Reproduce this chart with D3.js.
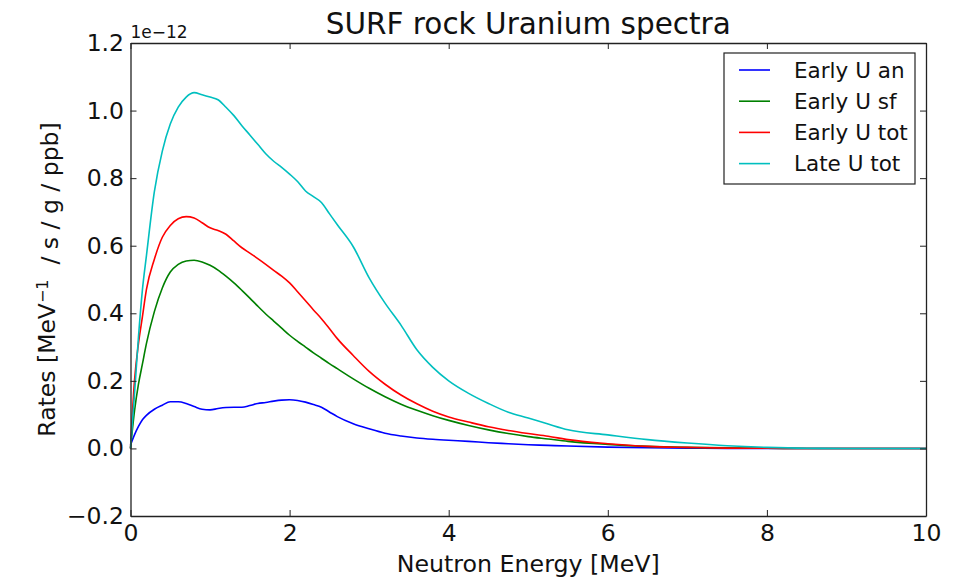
<!DOCTYPE html>
<html>
<head>
<meta charset="utf-8">
<script src="https://cdn.jsdelivr.net/npm/d3@7"></script>
<style>
  body { margin: 0; background: #fff; }
  svg { font-family: "DejaVu Sans", sans-serif; }
</style>
</head>
<body>
<div id="chart"></div>
<script>
// neutron energy grid (MeV)
var energy = [0, 0.05, 0.1, 0.15, 0.2,
    0.3, 0.4, 0.5, 0.6, 0.7, 0.8, 0.9, 1.0, 1.1, 1.2,
    1.3, 1.4, 1.5, 1.6, 1.7, 1.8, 1.9, 2.0, 2.1, 2.2,
    2.3, 2.4, 2.5, 2.6,
    2.8, 3.0, 3.2, 3.4, 3.6, 3.8, 4.0,
    4.25, 4.5, 4.75, 5.0, 5.25, 5.5,
    6.0, 6.5, 7.0, 7.5, 8.0, 8.5, 9.0, 10.0];

// rates in units of 1e-12 MeV^-1 / s / g / ppb
var earlyAn = [0.01, 0.04, 0.065, 0.085, 0.098,
    0.116, 0.128, 0.138, 0.138, 0.133, 0.124, 0.116, 0.114, 0.118, 0.121,
    0.122, 0.122, 0.127, 0.133, 0.136, 0.140, 0.143, 0.144, 0.142, 0.137,
    0.130, 0.122, 0.108, 0.094,
    0.073, 0.058, 0.045, 0.037, 0.031, 0.027, 0.024,
    0.021, 0.017, 0.014, 0.011, 0.009, 0.007,
    0.004, 0.002, 0.001, 0, 0, 0, 0, 0];

var earlySf = [0, 0.11, 0.19, 0.25, 0.31,
    0.405, 0.475, 0.522, 0.545, 0.555, 0.557, 0.552, 0.542, 0.528, 0.510,
    0.490, 0.468, 0.445, 0.421, 0.398, 0.377, 0.356, 0.335, 0.317, 0.300,
    0.283, 0.267, 0.251, 0.236,
    0.206, 0.178, 0.153, 0.131, 0.113, 0.097, 0.083,
    0.068, 0.055, 0.044, 0.035, 0.028, 0.021,
    0.012, 0.006, 0.003, 0.0015, 0.0005, 0, 0, 0];

var earlyTot = [0, 0.20, 0.31, 0.39, 0.47,
    0.56, 0.625, 0.660, 0.680, 0.686, 0.682, 0.668, 0.653, 0.645, 0.634,
    0.614, 0.594, 0.578, 0.562, 0.545, 0.527, 0.510, 0.490, 0.464, 0.437,
    0.410, 0.384, 0.355, 0.325,
    0.275, 0.228, 0.190, 0.158, 0.132, 0.110, 0.093,
    0.078, 0.064, 0.053, 0.044, 0.036, 0.026,
    0.014, 0.006, 0.003, 0.001, 0.0005, 0, 0, 0];

var lateTot = [0, 0.16, 0.33, 0.47, 0.57,
    0.76, 0.88, 0.96, 1.01, 1.04, 1.053, 1.047, 1.040, 1.032, 1.010,
    0.985, 0.955, 0.928, 0.900, 0.872, 0.850, 0.832, 0.812, 0.790, 0.762,
    0.745, 0.728, 0.695, 0.662,
    0.597, 0.505, 0.430, 0.365, 0.292, 0.240, 0.200,
    0.163, 0.133, 0.107, 0.090, 0.072, 0.055,
    0.040, 0.026, 0.016, 0.008, 0.003, 0.0005, 0, 0];

var seriesNames  = ["Early U an", "Early U sf", "Early U tot", "Late U tot"];
var seriesColors = ["#0000ff", "#008000", "#ff0000", "#00bfbf"];
var seriesData   = [earlyAn, earlySf, earlyTot, lateTot];

var xTicks = [0, 2, 4, 6, 8, 10];
var yTicks = [-0.2, 0, 0.2, 0.4, 0.6, 0.8, 1.0, 1.2];

var width = 962, height = 578;
var plotLeft = 130.5, plotRight = 926, plotTop = 43, plotBottom = 516;

var svg = d3.select("#chart").append("svg")
    .attr("width", width)
    .attr("height", height);

var x = d3.scaleLinear().domain([0, 10]).range([plotLeft, plotRight]);
var y = d3.scaleLinear().domain([-0.2, 1.2]).range([plotBottom, plotTop]);

// curves
var line = d3.line()
    .x(function(d) { return x(d[0]); })
    .y(function(d) { return y(d[1]); })
    .curve(d3.curveMonotoneX);

svg.append("g").selectAll("path")
    .data(seriesData)
    .enter().append("path")
    .attr("d", function(vals) {
        return line(vals.map(function(v, i) { return [energy[i], v]; }));
    })
    .attr("fill", "none")
    .attr("stroke", function(d, i) { return seriesColors[i]; })
    .attr("stroke-width", 1.6)
    .attr("stroke-linejoin", "round");

// axes, ticks pointing inward on all four sides
function styleAxis(g) {
    g.attr("font-family", null);
    g.select(".domain").attr("stroke", "#222").attr("stroke-width", 1.3);
    g.selectAll(".tick line").attr("stroke", "#222").attr("stroke-width", 1);
    g.selectAll(".tick text").attr("fill", "#111").style("font-size", "23.5px");
}

svg.append("g")
    .attr("transform", "translate(0," + plotBottom + ")")
    .call(d3.axisBottom(x).tickValues(xTicks).tickFormat(d3.format("d"))
        .tickSizeInner(-6).tickSizeOuter(0).tickPadding(8))
    .call(styleAxis);

svg.append("g")
    .attr("transform", "translate(0," + plotTop + ")")
    .call(d3.axisTop(x).tickValues(xTicks).tickFormat("")
        .tickSizeInner(-6).tickSizeOuter(0))
    .call(styleAxis);

svg.append("g")
    .attr("transform", "translate(" + plotLeft + ",0)")
    .call(d3.axisLeft(y).tickValues(yTicks).tickFormat(d3.format(".1f"))
        .tickSizeInner(-6).tickSizeOuter(0).tickPadding(6.5))
    .call(styleAxis);

svg.append("g")
    .attr("transform", "translate(" + plotRight + ",0)")
    .call(d3.axisRight(y).tickValues(yTicks).tickFormat("")
        .tickSizeInner(-6).tickSizeOuter(0))
    .call(styleAxis);

// offset text
svg.append("text")
    .attr("x", plotLeft)
    .attr("y", 38)
    .style("font-size", "17px")
    .attr("fill", "#111")
    .text("1e\u221212");

// title
svg.append("text")
    .attr("x", (plotLeft + plotRight) / 2)
    .attr("y", 34)
    .style("font-size", "29.5px")
    .style("text-anchor", "middle")
    .attr("fill", "#111")
    .text("SURF rock Uranium spectra");

// x label
svg.append("text")
    .attr("x", (plotLeft + plotRight) / 2)
    .attr("y", 572)
    .style("font-size", "23.7px")
    .style("text-anchor", "middle")
    .attr("fill", "#111")
    .text("Neutron Energy [MeV]");

// y label
var ylab = svg.append("text")
    .attr("transform", "translate(55," + ((plotTop + plotBottom) / 2) + ") rotate(-90)")
    .style("font-size", "23.5px")
    .style("text-anchor", "middle")
    .attr("fill", "#111");
ylab.append("tspan").text("Rates [MeV");
ylab.append("tspan").attr("dy", "-0.45em").style("font-size", "16px").text("\u22121");
ylab.append("tspan").attr("dy", "0.45em").text("\u00a0 / s / g / ppb]");

// legend
var legend = svg.append("g");
legend.append("rect")
    .attr("x", 724).attr("y", 53)
    .attr("width", 191).attr("height", 131)
    .attr("fill", "#fff")
    .attr("stroke", "#222")
    .attr("stroke-width", 1.2);

var entries = legend.selectAll("g.entry")
    .data(seriesNames)
    .enter().append("g")
    .attr("class", "entry")
    .attr("transform", function(d, i) { return "translate(0," + (70 + i * 31.2) + ")"; });

entries.append("line")
    .attr("x1", 739).attr("x2", 770)
    .attr("stroke", function(d, i) { return seriesColors[i]; })
    .attr("stroke-width", 1.6);

entries.append("text")
    .attr("x", 794)
    .attr("dy", "0.35em")
    .style("font-size", "21.5px")
    .attr("fill", "#111")
    .text(function(d) { return d; });
</script>
</body>
</html>
